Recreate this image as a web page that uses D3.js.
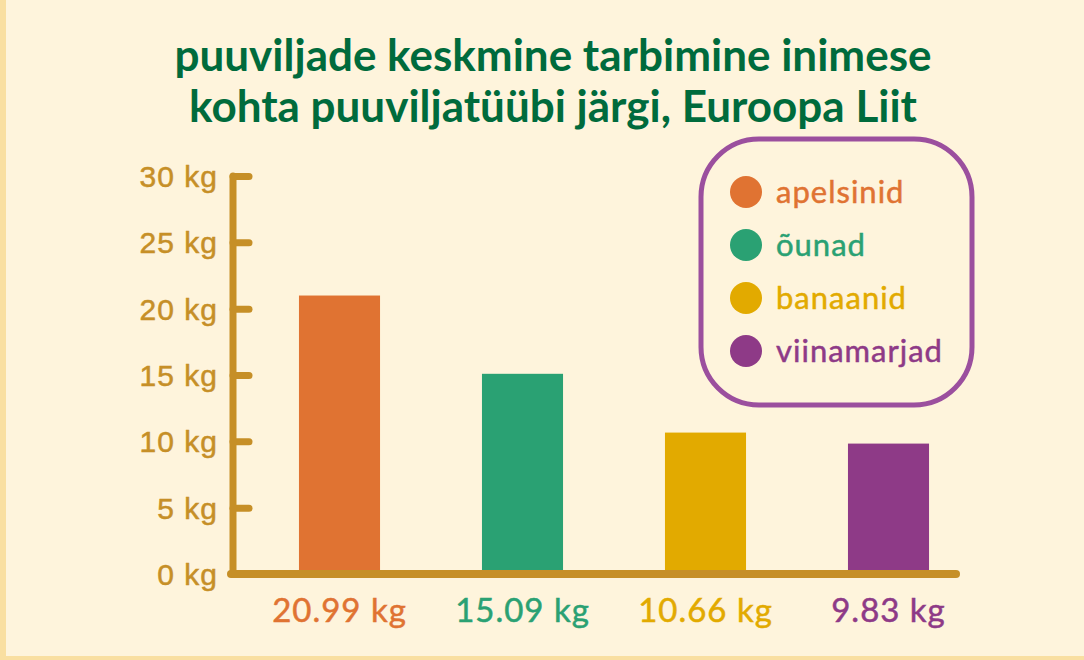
<!DOCTYPE html>
<html>
<head>
<meta charset="utf-8">
<script src="https://cdn.jsdelivr.net/npm/d3@7"></script>
<style>
  html, body { margin: 0; padding: 0; background: #fef4dc; }
  svg { display: block; font-family: Lato, "Open Sans", sans-serif; }
  .lbl { letter-spacing: 1px; stroke-width: 0.5px; }
</style>
</head>
<body>
<div id="chart"></div>
<script>
const categories = ["apelsinid", "õunad", "banaanid", "viinamarjad"];
const values = [20.99, 15.09, 10.66, 9.83];
const colors = ["#e07332", "#2aa173", "#e2aa00", "#8e3a87"];
const yTicks = [0, 5, 10, 15, 20, 25, 30];
const titleLines = ["puuviljade keskmine tarbimine inimese", "kohta puuviljatüübi järgi, Euroopa Liit"];

const width = 1084, height = 660;
const axisColor = "#c68f27";

const svg = d3.select("#chart").append("svg")
  .attr("width", width).attr("height", height);

// background + frame
svg.append("rect").attr("width", width).attr("height", height).attr("fill", "#fef4dc");
svg.append("rect").attr("x", 0).attr("y", 0).attr("width", 6).attr("height", height).attr("fill", "#f9dfa1");
svg.append("rect").attr("x", 0).attr("y", height - 4).attr("width", width).attr("height", 4).attr("fill", "#f9dfa1");

// title
svg.append("g").selectAll("text")
  .data(titleLines)
  .join("text")
  .attr("x", 553)
  .attr("y", (d, i) => 71 + i * 51)
  .attr("text-anchor", "middle")
  .attr("fill", "#006b3c")
  .attr("font-size", 44)
  .attr("font-weight", 700)
  .text((d) => d);

const x = d3.scaleBand()
  .domain(categories)
  .range([248, 980])
  .paddingInner(0.557)
  .paddingOuter(0.2785);

const y = d3.scaleLinear().domain([0, 30]).range([574, 176]);

// bars
svg.append("g").selectAll("rect")
  .data(values)
  .join("rect")
  .attr("x", (d, i) => x(categories[i]))
  .attr("width", x.bandwidth())
  .attr("y", (d) => y(d))
  .attr("height", (d) => y(0) - y(d))
  .attr("fill", (d, i) => colors[i]);

// y axis
const gY = svg.append("g").attr("transform", "translate(233,0)")
  .call(d3.axisRight(y).tickValues(yTicks).tickSize(16).tickFormat(() => ""));
gY.select(".domain").remove();
gY.selectAll(".tick line")
  .attr("stroke", axisColor).attr("stroke-width", 7).attr("stroke-linecap", "round");
gY.append("line")
  .attr("x1", 0).attr("x2", 0)
  .attr("y1", y(30)).attr("y2", y(0))
  .attr("stroke", axisColor).attr("stroke-width", 7).attr("stroke-linecap", "round");
gY.selectAll(".tick").append("text")
  .attr("class", "lbl")
  .attr("x", -15)
  .attr("dy", "0.35em")
  .attr("text-anchor", "end")
  .attr("fill", axisColor)
  .attr("stroke", axisColor)
  .attr("font-size", 30)
  .text((d) => `${d} kg`);

// x axis line
svg.append("line")
  .attr("x1", 231).attr("x2", 956)
  .attr("y1", y(0)).attr("y2", y(0))
  .attr("stroke", axisColor).attr("stroke-width", 8).attr("stroke-linecap", "round");

// value labels
svg.append("g").selectAll("text")
  .data(values)
  .join("text")
  .attr("class", "lbl")
  .attr("x", (d, i) => x(categories[i]) + x.bandwidth() / 2)
  .attr("y", 622)
  .attr("text-anchor", "middle")
  .attr("fill", (d, i) => colors[i])
  .attr("stroke", (d, i) => colors[i])
  .attr("font-size", 33)
  .text((d) => `${d.toFixed(2)} kg`);

// legend
const legend = svg.append("g");
legend.append("rect")
  .attr("x", 701).attr("y", 139).attr("width", 271).attr("height", 266)
  .attr("rx", 58)
  .attr("fill", "none").attr("stroke", "#9b4f9e").attr("stroke-width", 5);
const item = legend.selectAll("g.item")
  .data(categories)
  .join("g")
  .attr("class", "item")
  .attr("transform", (d, i) => `translate(746,${192 + i * 53})`);
item.append("circle").attr("r", 16).attr("fill", (d, i) => colors[i]);
item.append("text")
  .attr("class", "lbl")
  .attr("x", 30).attr("dy", "0.35em")
  .attr("fill", (d, i) => colors[i])
  .attr("stroke", (d, i) => colors[i])
  .attr("font-size", 31)
  .text((d) => d);
</script>
</body>
</html>
